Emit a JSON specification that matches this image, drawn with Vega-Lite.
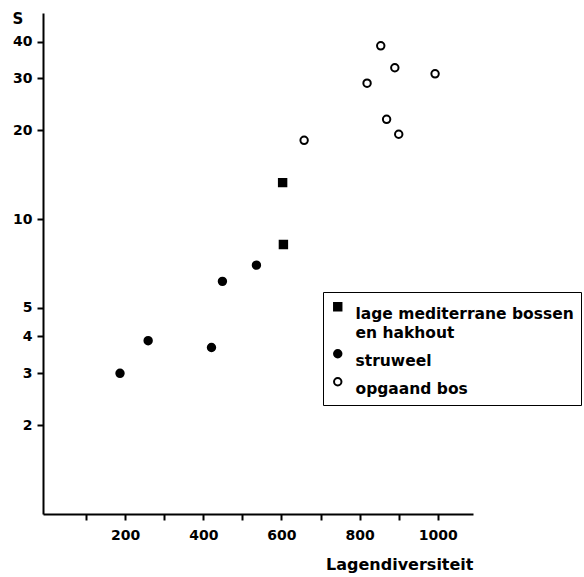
{
  "$schema": "https://vega.github.io/schema/vega-lite/v6.json",
  "width": 430,
  "height": 501,
  "autosize": {"type": "none"},
  "padding": {"left": 43, "top": 13, "right": 111, "bottom": 63},
  "background": "white",
  "config": {
    "view": {"stroke": null},
    "font": "DejaVu Sans",
    "style": {"guide-label": {"lineHeight": 19}},
    "axis": {"grid": false, "domainColor": "black", "domainWidth": 2, "tickColor": "black", "tickWidth": 2, "labelColor": "black", "labelFont": "DejaVu Sans", "labelFontWeight": "bold", "labelFontSize": 14, "titleFont": "DejaVu Sans", "titleFontWeight": "bold", "titleColor": "black"}
  },
  "data": {"values": [
    {"x": 603, "s": 13.3, "type": "lage mediterrane bossen en hakhout"},
    {"x": 605, "s": 8.2, "type": "lage mediterrane bossen en hakhout"},
    {"x": 187, "s": 3.0, "type": "struweel"},
    {"x": 259, "s": 3.87, "type": "struweel"},
    {"x": 421, "s": 3.67, "type": "struweel"},
    {"x": 449, "s": 6.15, "type": "struweel"},
    {"x": 536, "s": 6.98, "type": "struweel"},
    {"x": 658, "s": 18.5, "type": "opgaand bos"},
    {"x": 819, "s": 28.9, "type": "opgaand bos"},
    {"x": 854, "s": 38.7, "type": "opgaand bos"},
    {"x": 890, "s": 32.6, "type": "opgaand bos"},
    {"x": 993, "s": 31.1, "type": "opgaand bos"},
    {"x": 869, "s": 21.8, "type": "opgaand bos"},
    {"x": 900, "s": 19.4, "type": "opgaand bos"}
  ]},
  "mark": {"type": "point", "strokeWidth": 2, "size": 55, "opacity": 1, "filled": true},
  "encoding": {
    "x": {"field": "x", "type": "quantitative", "scale": {"domain": [-10, 1090], "nice": false, "zero": false},
      "axis": {"values": [100, 200, 300, 400, 500, 600, 700, 800, 900, 1000], "format": "d", "labelExpr": "datum.value % 200 == 0 ? datum.label : ''", "tickSize": 6, "labelPadding": 8, "title": "Lagendiversiteit", "titleAnchor": "end", "titleFontSize": 16, "titlePadding": 14}},
    "y": {"field": "s", "type": "quantitative", "scale": {"type": "log", "domain": [1, 50], "nice": false},
      "axis": {"values": [2, 3, 4, 5, 10, 20, 30, 40], "format": "d", "tickSize": 6, "labelPadding": 5, "title": "S", "titleAngle": 0, "titleX": -31, "titleY": 10, "titleAlign": "left", "titleBaseline": "alphabetic", "titleFontSize": 15}},
    "shape": {"field": "type", "type": "nominal",
      "scale": {"domain": ["lage mediterrane bossen en hakhout", "struweel", "opgaand bos"], "range": ["square", "circle", "circle"]},
      "legend": {"title": null, "orient": "none", "legendX": 280, "legendY": 279, "strokeColor": "black", "padding": 7, "labelFont": "DejaVu Sans", "labelFontWeight": "bold", "labelFontSize": 15.5, "labelColor": "black", "labelLimit": 400, "symbolStrokeWidth": 2, "symbolSize": 55, "rowPadding": 4,
        "labelExpr": "datum.label == 'lage mediterrane bossen en hakhout' ? ['lage mediterrane bossen', 'en hakhout'] : datum.label", "labelBaseline": "top", "labelOffset": 10}},
    "fill": {"field": "type", "type": "nominal",
      "scale": {"domain": ["lage mediterrane bossen en hakhout", "struweel", "opgaand bos"], "range": ["black", "black", "white"]}},
    "stroke": {"field": "type", "type": "nominal",
      "scale": {"domain": ["lage mediterrane bossen en hakhout", "struweel", "opgaand bos"], "range": ["black", "black", "black"]}}
  }
}
